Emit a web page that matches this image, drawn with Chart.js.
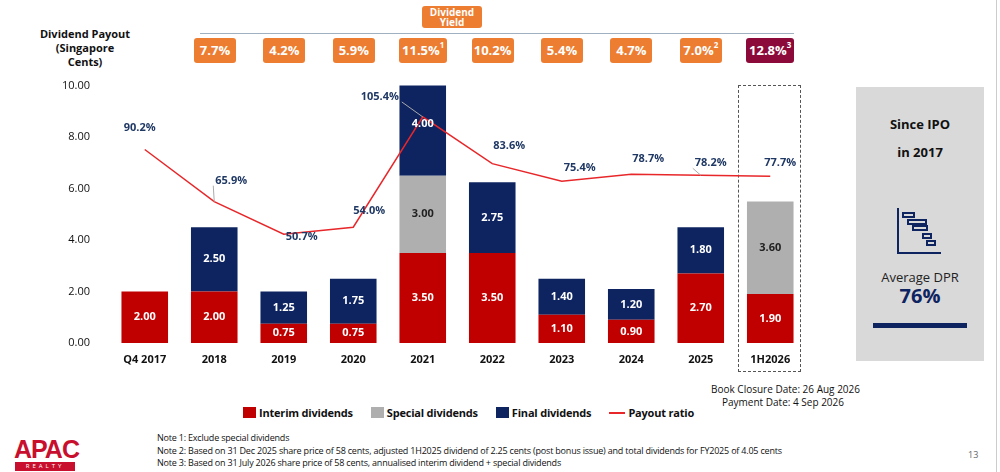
<!DOCTYPE html>
<html><head><meta charset="utf-8">
<script src="https://cdn.jsdelivr.net/npm/chart.js@4/dist/chart.umd.min.js"></script>
<style>
body{margin:0;width:1000px;height:472px;position:relative;background:#fff;font-family:"Open Sans","Noto Sans",sans-serif;overflow:hidden}
.a{position:absolute}
.yb{position:absolute;top:38px;height:25px;line-height:25px;color:#fff;font-weight:bold;font-size:13px;text-align:center;border-radius:3px;background:#ED7D31}
sup{font-size:8px;vertical-align:top;line-height:14px}
.lg{display:inline-flex;align-items:center;margin-right:18px;white-space:nowrap}
.sw{display:inline-block;width:13px;height:11px;margin-right:3px}
</style></head><body>
<div class="a" style="left:30px;top:27px;width:110px;text-align:center;font-size:11px;font-weight:bold;line-height:14px;color:#111">Dividend Payout<br>(Singapore<br>Cents)</div>
<div class="a" style="left:422px;top:6px;width:60px;height:22px;background:#ED7D31;border-radius:3px;color:#fff;font-size:10px;font-weight:bold;text-align:center;line-height:10px;padding-top:1px;box-sizing:border-box">Dividend<br>Yield</div>
<div class="a" style="left:200px;top:33px;width:594px;height:1px;background:#9fb0c0"></div>
<div id="yields"></div>
<div class="a" style="left:738px;top:85px;width:63px;height:287px;border:1.5px dashed #555;box-sizing:border-box"></div>
<div class="a" style="left:60px;top:67px;width:745px;height:301px"><canvas id="c"></canvas></div>
<div class="a" style="left:690px;top:383px;width:170px;text-align:right;font-size:10px;line-height:13px;color:#111">Book Closure Date: 26 Aug 2026<br><span style="margin-right:16px">Payment Date: 4 Sep 2026</span></div>
<div class="a" style="left:243px;top:405px;font-size:11px;font-weight:bold;color:#111;white-space:nowrap;display:flex;letter-spacing:-0.2px">
<span class="lg"><span class="sw" style="background:#C00000"></span>Interim dividends</span><span class="lg"><span class="sw" style="background:#AFAFAF"></span>Special dividends</span><span class="lg"><span class="sw" style="background:#0E2461"></span>Final dividends</span><span class="lg"><span style="display:inline-block;width:16px;height:2px;background:#E8272A;margin-right:3px"></span>Payout ratio</span></div>
<div class="a" style="left:157px;top:432px;font-size:9px;line-height:12.5px;color:#111;white-space:nowrap;letter-spacing:-0.2px">Note 1: Exclude special dividends<br>Note 2: Based on 31 Dec 2025 share price of 58 cents, adjusted 1H2025 dividend of 2.25 cents (post bonus issue) and total dividends for FY2025 of 4.05 cents<br>Note 3: Based on 31 July 2026 share price of 58 cents, annualised interim dividend + special dividends</div>
<div class="a" style="left:14px;top:437px;color:#C8102E;font-weight:900;font-size:25px;font-family:'Liberation Sans',Arial;letter-spacing:-1px;line-height:24px">APAC</div>
<div class="a" style="left:15px;top:462px;width:60px;height:9px;background:#C8102E;color:#fff;font-size:6px;text-align:center;letter-spacing:3px;line-height:9px">REALTY</div>
<div class="a" style="left:968px;top:448px;font-size:9px;color:#666">13</div>
<div class="a" style="left:996px;top:0;width:1px;height:472px;background:#ccc"></div>
<div class="a" style="left:856px;top:87px;width:128px;height:274px;background:#D9D9D9;text-align:center">
<div style="margin-top:23px;font-weight:bold;font-size:13px;line-height:28px;color:#111">Since IPO<br>in 2017</div>
<svg width="50" height="48" style="margin-top:42px" viewBox="0 0 50 48"><g fill="none" stroke="#0E2461" stroke-width="2"><path d="M3 0 V45 H46"/><rect x="8" y="5" width="11" height="4"/><rect x="13" y="12" width="18" height="4"/><rect x="18" y="18" width="14" height="4"/><rect x="28" y="26" width="8" height="4"/><rect x="32" y="33" width="8" height="4"/></g></svg>
<div style="font-size:13px;color:#222;margin-top:8px;line-height:16px">Average DPR</div>
<div style="font-size:20px;font-weight:bold;color:#0E2461;line-height:22px">76%</div>
<div style="margin:16px auto 0;width:94px;height:5px;background:#0E2461"></div>
</div>
<script>
const categories=["Q4 2017","2018","2019","2020","2021","2022","2023","2024","2025","1H2026"];
const interim=[2.00,2.00,0.75,0.75,3.50,3.50,1.10,0.90,2.70,1.90];
const special=[0,0,0,0,3.00,0,0,0,0,3.60];
const finals=[0,2.50,1.25,1.75,4.00,2.75,1.40,1.20,1.80,0];
const payout=[90.2,65.9,50.7,54.0,105.4,83.6,75.4,78.7,78.2,77.7];
const yields=["7.7%","4.2%","5.9%","11.5%¹","10.2%","5.4%","4.7%","7.0%²","12.8%³"];
const yTicks=[0,2,4,6,8,10];
const yc=document.getElementById('yields');
yields.forEach((t,i)=>{const d=document.createElement('div');d.className='yb';
 const cx=215+i*69.4;const w=(t.length>5)?48:42;d.style.left=(cx-w/2)+'px';d.style.width=w+'px';
 if(i===8)d.style.background='#8B0A3A';
 d.innerHTML=t.replace(/([¹²³])/,m=>'<sup>'+({'¹':'1','²':'2','³':'3'})[m]+'</sup>');yc.appendChild(d);});
const labOff=[[-5,-22],[17,-21],[18,3],[16,-16],[-43,-20],[17,-18],[18,-13],[17,-15],[10,-12],[10,-13]];
const labels={id:'labs',afterDatasetsDraw(ch){const c=ch.ctx;c.save();c.textAlign='center';c.textBaseline='middle';
 [0,1,2].forEach(di=>{const m=ch.getDatasetMeta(di);const ds=ch.data.datasets[di];
  m.data.forEach((b,i)=>{const v=ds.data[i];if(!v)return;const y=(b.y+b.base)/2;
   c.font='bold 11px "Open Sans"';c.fillStyle=di===1?'#222':'#fff';c.fillText(v.toFixed(2),b.x,y);});});
 const lm=ch.getDatasetMeta(3);c.font='bold 11px "Open Sans"';c.fillStyle='#1F3864';
 lm.data.forEach((p,i)=>{const[dx,dy]=labOff[i];const tx=p.x+dx,ty=p.y+dy;
  if(i===4||i===1||i===8){c.strokeStyle='#aaa';c.lineWidth=1;c.beginPath();c.moveTo(p.x,p.y);c.lineTo(tx+(dx<0?22:-18),ty+5);c.stroke();}
  c.fillText(payout[i].toFixed(1)+'%',tx,ty);});
 c.restore();}};
new Chart(document.getElementById('c'),{
 data:{labels:categories,datasets:[
  {type:'bar',data:interim,backgroundColor:'#C00000',stack:'s',barPercentage:0.67,categoryPercentage:1,order:2},
  {type:'bar',data:special,backgroundColor:'#AFAFAF',stack:'s',barPercentage:0.67,categoryPercentage:1,order:2},
  {type:'bar',data:finals,backgroundColor:'#0E2461',stack:'s',barPercentage:0.67,categoryPercentage:1,order:2},
  {type:'line',data:payout,yAxisID:'y2',borderColor:'#E8272A',borderWidth:1.5,pointRadius:0,tension:0,order:1}]},
 options:{responsive:true,maintainAspectRatio:false,animation:false,
  layout:{padding:{top:1,right:0,left:0,bottom:0}},
  plugins:{legend:{display:false},tooltip:{enabled:false}},
  scales:{
   x:{stacked:true,grid:{display:false},border:{display:false},afterFit(a){a.height=25},
      ticks:{color:'#111',font:{size:11,weight:'bold',family:'Open Sans'},padding:2}},
   y:{stacked:true,min:0,max:10,grid:{display:false},border:{display:false},afterFit(a){a.width=50},
      afterBuildTicks(a){a.ticks=yTicks.map(v=>({value:v}))},
      ticks:{color:'#111',font:{size:11,family:'Open Sans'},padding:12,callback:v=>v.toFixed(2)}},
   y2:{display:false,min:0,max:120}}},
 plugins:[labels]});
</script></body></html>
